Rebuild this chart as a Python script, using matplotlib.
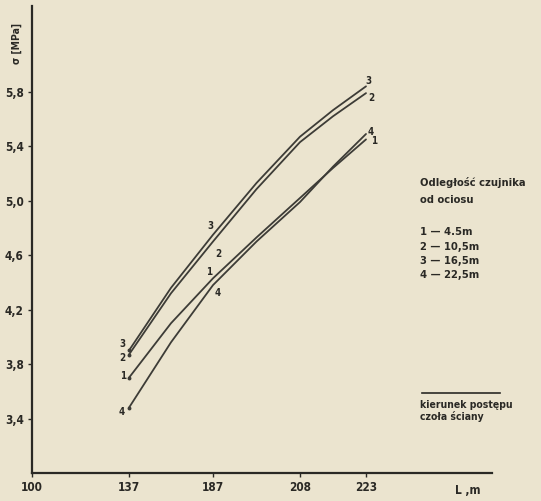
import numpy as np
import matplotlib.pyplot as plt

plt.rcParams['font.family'] = ['DejaVu Sans']
plt.rcParams['font.weight'] = 'bold'
plt.rcParams['font.stretch'] = 'condensed'

# x axis: L [m], ticks are not evenly spaced on the original scan
L_ticks = [100, 137, 187, 208, 223]
L_tick_labels = ['100', '137', '187', '208', '223']
L_tick_pos = [0, 97, 181, 268, 334]          # drawn position of each tick

y_ticks = [3.4, 3.8, 4.2, 4.6, 5.0, 5.4, 5.8]
y_tick_labels = ['3,4', '3,8', '4,2', '4,6', '5,0', '5,4', '5,8']

# readings along the curves
L_points = [137, 162, 187, 197.5, 208, 215.5, 223]
sigma_1 = [3.70, 4.10, 4.43, 4.73, 5.02, 5.24, 5.45]
sigma_2 = [3.87, 4.32, 4.70, 5.085, 5.43, 5.62, 5.79]
sigma_3 = [3.90, 4.36, 4.75, 5.13, 5.47, 5.665, 5.84]
sigma_4 = [3.48, 3.96, 4.38, 4.70, 4.99, 5.25, 5.49]

curve_names = ['1', '2', '3', '4']
distances = ['4.5m', '10,5m', '16,5m', '22,5m']

paper = '#ebe4cf'
ink = '#2a2925'

fig = plt.figure(figsize=(5.41, 5.01), dpi=100, facecolor=paper)
ax = fig.add_axes([32 / 541, 1 - 473 / 501, 460 / 541, 467 / 501])
ax.set_facecolor(paper)

x_pts = np.interp(L_points, L_ticks, L_tick_pos)
curves = {'1': sigma_1, '2': sigma_2, '3': sigma_3, '4': sigma_4}
for name in curve_names:
    ax.plot(x_pts, curves[name], color='#3d3c37', linewidth=1.3, solid_capstyle='round')
    ax.plot(x_pts[0], curves[name][0], 'o', color='#3d3c37', markersize=1.8)

# curve numbers: at start, at L=187 and at the end
label_offsets = {
    '1': [(-6, 2), (-4, 6), (8, -2)],
    '2': [(-7, -3), (5, -12), (5, -5)],
    '3': [(-7, 6), (-3, 9), (2, 5)],
    '4': [(-7, -4), (5, -8), (5, 2)],
}
for name in curve_names:
    y = curves[name]
    for idx, off in zip([0, 2, -1], label_offsets[name]):
        ax.annotate(name, (x_pts[idx], y[idx]), xytext=off, textcoords='offset pixels',
                    ha='center', va='center', fontsize=7, color=ink)

ax.set_xlim(0, 460)
ax.set_ylim(3.0, 6.43)
ax.set_xticks(L_tick_pos)
ax.set_xticklabels(L_tick_labels)
ax.set_yticks(y_ticks)
ax.set_yticklabels(y_tick_labels)
ax.tick_params(axis='both', colors=ink, labelsize=8.5, length=3, width=1, direction='out', pad=3)
for side in ['top', 'right']:
    ax.spines[side].set_visible(False)
for side in ['left', 'bottom']:
    ax.spines[side].set_color(ink)
    ax.spines[side].set_linewidth(1.6)

fig.text(17 / 541, 1 - 43 / 501, 'σ [MPa]', rotation=90, ha='center', va='center',
         fontsize=7.5, color=ink)
fig.text(468 / 541, 1 - 490 / 501, 'L ,m', ha='center', va='center', fontsize=8.5, color=ink)

# legend block on the right
fig.text(420 / 541, 1 - 183 / 501, 'Odległość czujnika', fontsize=8, color=ink, va='center')
fig.text(420 / 541, 1 - 200 / 501, 'od ociosu', fontsize=8, color=ink, va='center')
for i, (name, d) in enumerate(zip(curve_names, distances)):
    fig.text(420 / 541, 1 - (232 + 14.5 * i) / 501, name + ' — ' + d, fontsize=8,
             color=ink, va='center')

fig.add_artist(plt.Line2D([422 / 541, 500 / 541], [1 - 393 / 501, 1 - 393 / 501],
                          color=ink, linewidth=1.2))
fig.text(420 / 541, 1 - 405 / 501, 'kierunek postępu', fontsize=7.5, color=ink, va='center')
fig.text(420 / 541, 1 - 417 / 501, 'czoła ściany', fontsize=7.5, color=ink, va='center')

fig.savefig('out.png', dpi=100, facecolor=paper)
